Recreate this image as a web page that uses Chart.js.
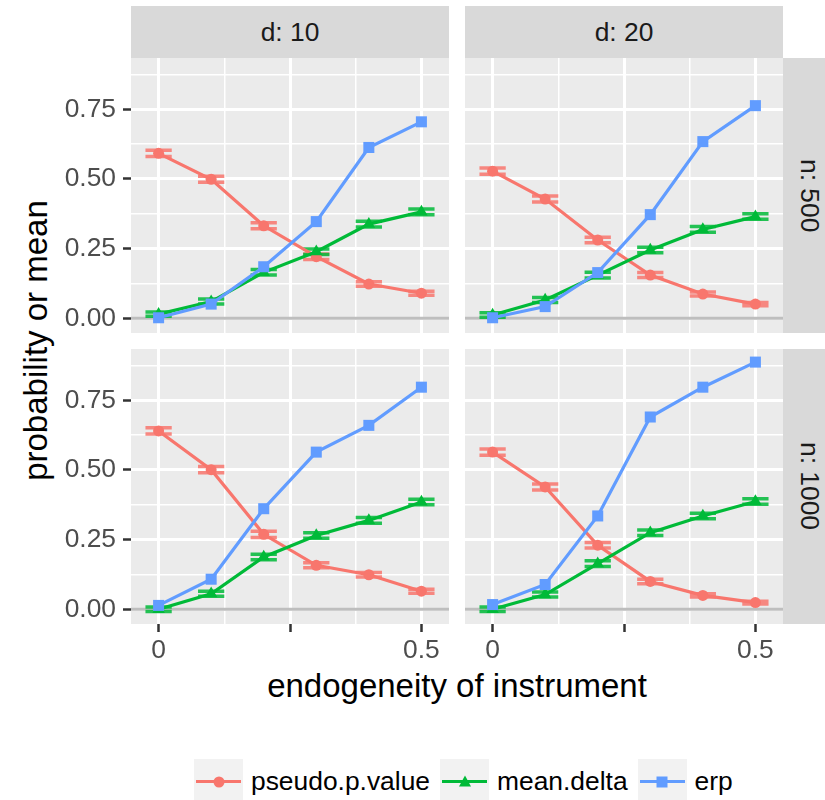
<!DOCTYPE html>
<html>
<head>
<meta charset="utf-8">
<script src="https://cdn.jsdelivr.net/npm/chart.js@4.4.1/dist/chart.umd.min.js"></script>
<style>
  body { margin: 0; width: 825px; height: 800px; overflow: hidden; background: #fff; position: relative;
         font-family: "Liberation Sans", Arial, sans-serif; }
  canvas { position: absolute; }
  .strip { position: absolute; background: #d9d9d9; color: #1a1a1a; font-size: 26.4px;
           display: flex; align-items: center; justify-content: center; }
  .strip.right span { writing-mode: vertical-rl; }
  .title { position: absolute; color: #000; font-size: 33px; line-height: 33px; text-align: center; white-space: nowrap; }
  #legend { position: absolute; left: 194px; top: 759px; display: flex; align-items: center; }
  .key { position: relative; width: 49px; height: 45px; background: #f2f2f2; }
  .key .ln { position: absolute; left: 2px; right: 2px; top: 21px; height: 3px; }
  .key .mk { position: absolute; left: 50%; top: 50%; transform: translate(-50%, -50%); }
  .lab { font-size: 26.4px; color: #000; margin: 0 10px 0 8px; }
</style>
</head>
<body>
<div class="strip" style="left:131px; top:6px; width:318px; height:52px;" id="s0"></div>
<div class="strip" style="left:465px; top:6px; width:318px; height:52px;" id="s1"></div>
<div class="strip right" style="left:783px; top:58px; width:52px; height:275px;"><span id="r0"></span></div>
<div class="strip right" style="left:783px; top:349px; width:52px; height:275px;"><span id="r1"></span></div>
<div class="title" style="left:257px; top:669px; width:400px;">endogeneity of instrument</div>
<div class="title" style="left:-165px; top:324px; width:400px; transform: rotate(-90deg);">probability or mean</div>
<div id="legend"></div>

<script>
// categories
var xVals = [0, 0.1, 0.2, 0.3, 0.4, 0.5];
var seriesNames = ['pseudo.p.value', 'mean.delta', 'erp'];
var colLabels = ['d: 10', 'd: 20'];
var rowLabels = ['n: 500', 'n: 1000'];

// tick labels
var xMajor = [0, 0.25, 0.5];
var xTickLabels = ['0', '', '0.5'];
var xMinor = [0.125, 0.375];
var yMajor = [0, 0.25, 0.5, 0.75];
var yTickLabels = ['0.00', '0.25', '0.50', '0.75'];
var yMinor = [0.125, 0.375, 0.625, 0.875];

// pseudo.p.value (with error bar half heights)
var pvalD10N500  = [0.592, 0.499, 0.332, 0.221, 0.123, 0.090];
var pvalD20N500  = [0.528, 0.428, 0.281, 0.155, 0.087, 0.051];
var pvalD10N1000 = [0.640, 0.501, 0.269, 0.158, 0.124, 0.065];
var pvalD20N1000 = [0.564, 0.439, 0.230, 0.100, 0.050, 0.024];
var pvalErrD10N500  = [0.011, 0.011, 0.011, 0.010, 0.008, 0.007];
var pvalErrD20N500  = [0.011, 0.011, 0.010, 0.009, 0.007, 0.006];
var pvalErrD10N1000 = [0.011, 0.011, 0.011, 0.009, 0.008, 0.007];
var pvalErrD20N1000 = [0.011, 0.011, 0.010, 0.008, 0.006, 0.005];

// mean.delta
var deltaD10N500  = [0.015, 0.060, 0.165, 0.239, 0.338, 0.382];
var deltaD20N500  = [0.012, 0.066, 0.155, 0.245, 0.319, 0.365];
var deltaD10N1000 = [0.000, 0.056, 0.188, 0.265, 0.319, 0.385];
var deltaD20N1000 = [0.000, 0.053, 0.164, 0.275, 0.335, 0.387];
var deltaErrD10N500  = [0.008, 0.009, 0.010, 0.010, 0.010, 0.010];
var deltaErrD20N500  = [0.008, 0.009, 0.010, 0.010, 0.010, 0.010];
var deltaErrD10N1000 = [0.008, 0.009, 0.010, 0.010, 0.010, 0.010];
var deltaErrD20N1000 = [0.008, 0.009, 0.010, 0.010, 0.010, 0.010];

// erp
var erpD10N500  = [0.002, 0.051, 0.185, 0.347, 0.613, 0.705];
var erpD20N500  = [0.002, 0.042, 0.164, 0.372, 0.634, 0.763];
var erpD10N1000 = [0.014, 0.108, 0.361, 0.564, 0.660, 0.797];
var erpD20N1000 = [0.017, 0.089, 0.335, 0.690, 0.797, 0.887];

var colors = ['#F8766D', '#00BA38', '#619CFF'];
var shapes = ['circle', 'triangle', 'rect'];
var radii = [5.5, 7.2, 7.8];

var panels = [
  { row: 0, col: 0, vals: [pvalD10N500, deltaD10N500, erpD10N500], errs: [pvalErrD10N500, deltaErrD10N500, null] },
  { row: 0, col: 1, vals: [pvalD20N500, deltaD20N500, erpD20N500], errs: [pvalErrD20N500, deltaErrD20N500, null] },
  { row: 1, col: 0, vals: [pvalD10N1000, deltaD10N1000, erpD10N1000], errs: [pvalErrD10N1000, deltaErrD10N1000, null] },
  { row: 1, col: 1, vals: [pvalD20N1000, deltaD20N1000, erpD20N1000], errs: [pvalErrD20N1000, deltaErrD20N1000, null] }
];

// layout of the facet grid
var COLS = [[131, 449], [465, 783]];
var ROWS = [[58, 333], [349, 624]];
var PAD = 32, YAXIS_W = 131, XAXIS_H = 50;
var X_MIN = -0.0525, X_MAX = 0.5525, Y_MIN = -0.0527, Y_MAX = 0.934;
var ERR_HALF_W = 0.025;
var font = { family: '"Liberation Sans", Arial, sans-serif', size: 26.4 };

document.getElementById('s0').textContent = colLabels[0];
document.getElementById('s1').textContent = colLabels[1];
document.getElementById('r0').textContent = rowLabels[0];
document.getElementById('r1').textContent = rowLabels[1];

function labelFor(major, labels, v) {
  var i = major.indexOf(v);
  return i >= 0 ? labels[i] : '';
}

var panelBg = {
  id: 'panelBg',
  beforeDraw: function(chart) {
    var a = chart.chartArea, ctx = chart.ctx;
    ctx.save();
    ctx.fillStyle = '#ebebeb';
    ctx.fillRect(a.left, a.top, a.right - a.left, a.bottom - a.top);
    ctx.restore();
  }
};

// zero line and error bars, drawn under the lines
var extras = {
  id: 'extras',
  beforeDatasetsDraw: function(chart) {
    var ctx = chart.ctx, a = chart.chartArea, x = chart.scales.x, y = chart.scales.y;
    ctx.save();
    ctx.strokeStyle = '#bebebe';
    ctx.lineWidth = 3;
    var py = y.getPixelForValue(0);
    ctx.beginPath(); ctx.moveTo(a.left, py); ctx.lineTo(a.right, py); ctx.stroke();

    chart.data.datasets.forEach(function(ds) {
      if (!ds.err) return;
      ctx.strokeStyle = ds.borderColor;
      ctx.globalAlpha = 0.85;
      ctx.lineWidth = 3.5;
      ds.data.forEach(function(p, i) {
        var x0 = x.getPixelForValue(p.x - ERR_HALF_W), x1 = x.getPixelForValue(p.x + ERR_HALF_W);
        var xm = x.getPixelForValue(p.x);
        var lo = y.getPixelForValue(p.y - ds.err[i]), hi = y.getPixelForValue(p.y + ds.err[i]);
        ctx.beginPath();
        ctx.moveTo(x0, hi); ctx.lineTo(x1, hi);
        ctx.moveTo(x0, lo); ctx.lineTo(x1, lo);
        ctx.moveTo(xm, hi); ctx.lineTo(xm, lo);
        ctx.stroke();
      });
    });
    ctx.restore();
  }
};

panels.forEach(function(p) {
  var L = COLS[p.col][0], R = COLS[p.col][1], T = ROWS[p.row][0], B = ROWS[p.row][1];
  var first = p.col === 0, bottom = p.row === 1;
  var cl = first ? L - YAXIS_W : L - PAD;
  var ct = T - PAD;
  var cw = R + PAD - cl;
  var ch = (bottom ? B + XAXIS_H : B + PAD) - ct;
  var cv = document.createElement('canvas');
  cv.width = cw; cv.height = ch;
  cv.style.left = cl + 'px'; cv.style.top = ct + 'px';
  document.body.appendChild(cv);

  var datasets = seriesNames.map(function(name, k) {
    return {
      label: name,
      data: xVals.map(function(xv, i) { return { x: xv, y: p.vals[k][i] }; }),
      err: p.errs[k],
      showLine: true,
      borderColor: colors[k],
      backgroundColor: colors[k],
      borderWidth: 3.2,
      pointStyle: shapes[k],
      pointRadius: radii[k],
      pointBorderWidth: 0,
      pointBackgroundColor: colors[k],
      order: 2 - k
    };
  });

  new Chart(cv, {
    type: 'scatter',
    data: { datasets: datasets },
    options: {
      responsive: false,
      animation: false,
      layout: { padding: { left: first ? 0 : PAD, right: PAD, top: PAD, bottom: bottom ? 0 : PAD } },
      plugins: { legend: { display: false }, tooltip: { enabled: false } },
      scales: {
        x: {
          type: 'linear', min: X_MIN, max: X_MAX,
          border: { display: false },
          afterBuildTicks: function(s) { s.ticks = xMajor.concat(xMinor).sort().map(function(v) { return { value: v }; }); },
          afterFit: function(s) { s.height = bottom ? XAXIS_H : 0; },
          grid: {
            color: '#ffffff',
            lineWidth: function(c) { return c.tick && xMajor.indexOf(c.tick.value) >= 0 ? 3 : 1.5; },
            drawTicks: bottom, tickLength: 8, tickWidth: 2.5,
            tickColor: function(c) { return c.tick && xMajor.indexOf(c.tick.value) >= 0 ? '#333333' : 'rgba(0,0,0,0)'; }
          },
          ticks: {
            display: bottom, autoSkip: false, maxRotation: 0, padding: 3, color: '#4d4d4d', font: font,
            callback: function(v) { return labelFor(xMajor, xTickLabels, v); }
          }
        },
        y: {
          type: 'linear', min: Y_MIN, max: Y_MAX,
          border: { display: false },
          afterBuildTicks: function(s) { s.ticks = yMajor.concat(yMinor).sort().map(function(v) { return { value: v }; }); },
          afterFit: function(s) { s.width = first ? YAXIS_W : 0; },
          grid: {
            color: '#ffffff',
            lineWidth: function(c) { return c.tick && yMajor.indexOf(c.tick.value) >= 0 ? 3 : 1.5; },
            drawTicks: first, tickLength: 8, tickWidth: 2.5,
            tickColor: function(c) { return c.tick && yMajor.indexOf(c.tick.value) >= 0 ? '#333333' : 'rgba(0,0,0,0)'; }
          },
          ticks: {
            display: first, autoSkip: false, padding: 7, color: '#4d4d4d', font: font,
            callback: function(v) { return labelFor(yMajor, yTickLabels, v); }
          }
        }
      }
    },
    plugins: [panelBg, extras]
  });
});

// legend
var legend = document.getElementById('legend');
seriesNames.forEach(function(name, k) {
  var key = document.createElement('div');
  key.className = 'key';
  var ln = document.createElement('div');
  ln.className = 'ln'; ln.style.background = colors[k];
  key.appendChild(ln);
  var mk = document.createElement('div');
  mk.className = 'mk';
  if (k === 0) { mk.style.cssText += 'width:11px;height:11px;border-radius:50%;background:' + colors[k]; }
  if (k === 1) { mk.style.cssText += 'width:0;height:0;border-left:6.5px solid transparent;border-right:6.5px solid transparent;border-bottom:11px solid ' + colors[k] + ';margin-top:-1px;'; }
  if (k === 2) { mk.style.cssText += 'width:11px;height:11px;background:' + colors[k]; }
  key.appendChild(mk);
  var lab = document.createElement('span');
  lab.className = 'lab'; lab.textContent = name;
  legend.appendChild(key);
  legend.appendChild(lab);
});
</script>
</body>
</html>
